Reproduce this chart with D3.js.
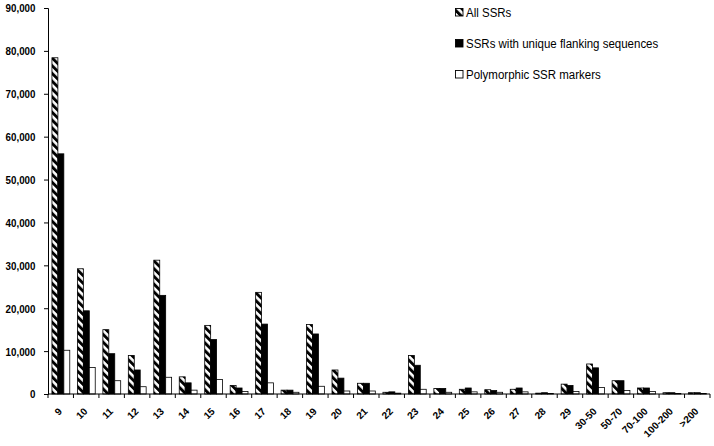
<!DOCTYPE html>
<html><head><meta charset="utf-8">
<script src="https://cdn.jsdelivr.net/npm/d3@7"></script>
<style>
html,body{margin:0;padding:0;background:#fff;}
svg{display:block;}
.lbl{font-family:"Liberation Sans",Arial,sans-serif;}
</style>
</head><body>
<svg id="chart" width="714" height="446"></svg>
<script>
const categories = ["9","10","11","12","13","14","15","16","17","18","19","20","21","22","23","24","25","26","27","28","29","30-50","50-70","70-100","100-200",">200"];
const allSSRs   = [78400,29200,15000,9000,31200,4000,16000,2000,23700,900,16200,5600,2500,400,9000,1300,1100,1000,1100,200,2300,7000,3100,1400,300,300];
const uniqueSSRs= [56000,19400,9400,5600,23000,2600,12700,1400,16300,900,14000,3700,2500,500,6700,1300,1400,800,1400,300,2000,6100,3100,1400,300,300];
const polySSRs  = [10200,6200,3100,1700,3900,900,3400,600,2600,400,1800,700,700,200,1100,400,500,400,500,100,600,1500,800,600,100,100];
const seriesNames = ["All SSRs","SSRs with unique flanking sequences","Polymorphic SSR markers"];
const yTicks = [0,10000,20000,30000,40000,50000,60000,70000,80000,90000];

const svg = d3.select("#chart");
const defs = svg.append("defs");
const pat = defs.append("pattern").attr("id","hatch").attr("patternUnits","userSpaceOnUse")
  .attr("width",5.5).attr("height",5.5).attr("patternTransform","rotate(-45)");
pat.append("rect").attr("width",5.5).attr("height",5.5).attr("fill","#fff");
pat.append("rect").attr("width",2.9).attr("height",5.5).attr("fill","#000");

const mLeft = 48, mRight = 710, mTop = 8, mBottom = 394;
const x = d3.scaleBand().domain(categories).range([mLeft,mRight]).padding(0);
const bw = x.bandwidth();
const x1 = d3.scaleBand().domain(seriesNames).range([bw*0.155, bw*0.855]).padding(0);
const y = d3.scaleLinear().domain([0,90000]).range([mBottom,mTop]);

const fills = ["url(#hatch)","#000","#fff"];
const series = [allSSRs, uniqueSSRs, polySSRs];

series.forEach((vals,si)=>{
  svg.append("g").selectAll("rect").data(vals).join("rect")
    .attr("x",(d,i)=>x(categories[i]) + x1(seriesNames[si]))
    .attr("y",d=>y(d))
    .attr("width",x1.bandwidth())
    .attr("height",d=>mBottom - y(d))
    .attr("fill",fills[si])
    .attr("stroke","#000").attr("stroke-width",0.8);
});

// Y axis
const yAxis = d3.axisLeft(y).tickValues(yTicks).tickSize(4).tickFormat(d3.format(","));
const yg = svg.append("g").attr("transform",`translate(${mLeft},0)`).call(yAxis);
yg.select(".domain").attr("stroke","#000");
yg.selectAll(".tick line").attr("stroke","#000");
yg.selectAll(".tick text")
  .attr("class","lbl").attr("font-size",11).attr("font-weight","bold").attr("fill","#000")
  .attr("x",null).attr("dy","0.36em")
  .attr("transform",`translate(-12.5,0) scale(0.89,1)`)
  .attr("text-anchor","end");

// X axis
const xg = svg.append("g").attr("transform",`translate(0,${mBottom})`);
xg.append("line").attr("x1",mLeft).attr("x2",mRight).attr("stroke","#000");
const bounds = categories.map(c=>x(c)).concat([mRight]);
xg.selectAll("line.tk").data(bounds).join("line").attr("class","tk")
  .attr("x1",d=>d).attr("x2",d=>d).attr("y1",0).attr("y2",4).attr("stroke","#000");
xg.selectAll("text").data(categories).join("text")
  .attr("class","lbl").attr("font-size",10).attr("font-weight","bold")
  .attr("text-anchor","end")
  .attr("transform",d=>`translate(${x(d)+bw/2+2},${412-mBottom}) rotate(-45)`)
  .text(d=>d);

// Legend
const leg = svg.append("g");
const legY = [8,39,70];
seriesNames.forEach((n,i)=>{
  leg.append("rect").attr("x",455.5).attr("y",legY[i]+0.5).attr("width",7.5).attr("height",7.5)
    .attr("fill",fills[i]).attr("stroke","#000").attr("stroke-width",0.9);
  leg.append("text").attr("class","lbl")
    .attr("transform",`translate(466,${legY[i]+9}) scale(0.92,1)`)
    .attr("font-size",12.5).attr("fill","#000").text(n);
});
</script>
</body></html>
